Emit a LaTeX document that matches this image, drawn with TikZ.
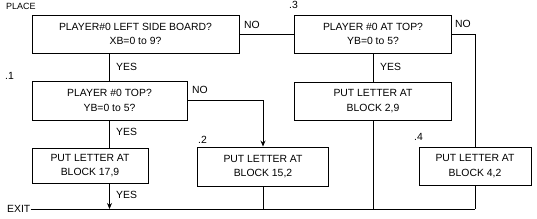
\documentclass[tikz,border=0pt]{standalone}
\usepackage{fontspec}
\setmainfont{Liberation Sans}
\usetikzlibrary{arrows.meta,positioning,calc}

\begin{document}
\begin{tikzpicture}[x=1pt,y=-1pt,
        flowbox/.style={rectangle, draw, line width=0.9pt, minimum width=#1, minimum height=38pt, inner sep=0pt, align=center, font=\fontsize{10.4}{14.5}\selectfont},
        lbl/.style={inner sep=0pt, anchor=west, font=\fontsize{10.4}{12}\selectfont},
        line/.style={line width=0.8pt},
        arrow/.style={-{Stealth[length=6pt,width=5pt]}, line width=0.8pt}
    ]
        \useasboundingbox (0,0) rectangle (537,219);

        \node[flowbox=207pt] (leftside) at (135.5,34) {PLAYER\#0 LEFT SIDE BOARD?\\XB=0 to 9?};
        \node[flowbox=157pt] (attop) at (373,34) {PLAYER \#0 AT TOP?\\YB=0 to 5?};
        \node[flowbox=155pt, minimum height=39pt] (topside) at (109.5,100.5) {PLAYER \#0 TOP?\\YB=0 to 5?};
        \node[flowbox=157pt] (put29) at (373,101) {PUT LETTER AT\\BLOCK 2,9};
        \node[flowbox=116pt, minimum height=35pt] (put179) at (90,165.5) {PUT LETTER AT\\BLOCK 17,9};
        \node[flowbox=131pt, minimum height=39pt] (put152) at (263,166.5) {PUT LETTER AT\\BLOCK 15,2};
        \node[flowbox=112pt] (put42) at (475,166) {PUT LETTER AT\\BLOCK 4,2};

        \node[lbl, font=\fontsize{9}{10}\selectfont] (place) at (6,6) {PLACE};
        \node[lbl] (exit) at (7,209) {EXIT};
        \coordinate (exitend) at (475,209);

        % step numbers
        \node[lbl] (n1) at (5,76) {.1};
        \node[lbl] (n2) at (198,140) {.2};
        \node[lbl] (n3) at (289,5) {.3};
        \node[lbl] (n4) at (414,137) {.4};

        % answers
        \node[lbl] (no1) at (244,25) {NO};
        \node[lbl] (no2) at (455,24) {NO};
        \node[lbl] (no3) at (192,90) {NO};
        \node[lbl] (yes1) at (116,67) {YES};
        \node[lbl] (yes2) at (380,67) {YES};
        \node[lbl] (yes3) at (116,132) {YES};
        \node[lbl] (yes4) at (116,195) {YES};

        \draw[line] (leftside) -- (attop);
        \draw[line] (topside.north |- leftside.south) -- (topside.north);
        \draw[arrow] (topside.east) -| (put152.north);
        \draw[line] (topside.south) -- (topside.south |- put179.north);
        \draw[arrow] (topside.south |- put179.south) -- (topside.south |- exit.east);
        \draw[line] (attop) -- (put29);
        \draw[line] (attop.east) -| (put42.north);
        \draw[line] (put29.south) -- (put29.south |- exit.east);
        \draw[line] (put152.south) -- (put152.south |- exit.east);
        \draw[line] (put42.south) -- (put42.south |- exit.east);
        \draw[line] (exit.east) -- (exitend);
    \end{tikzpicture}
\end{document}
